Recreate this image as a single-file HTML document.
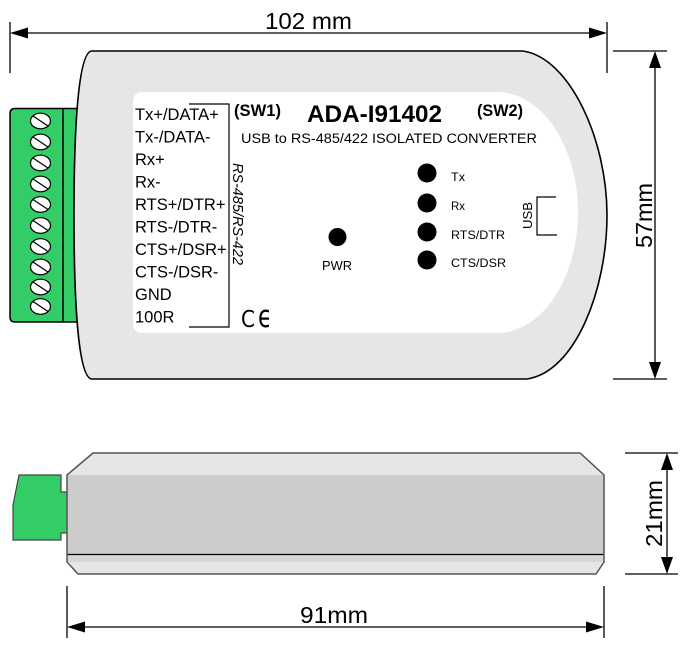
<!DOCTYPE html>
<html><head><meta charset="utf-8"><style>
html,body{margin:0;padding:0;background:#fff;}
svg{display:block;}
text{font-family:"Liberation Sans",Arial,sans-serif;fill:#000;}
</style></head><body>
<svg width="689" height="654" viewBox="0 0 689 654" xmlns="http://www.w3.org/2000/svg">
<!-- Top dimension 102 mm -->
<line x1="10" y1="22" x2="10" y2="73" stroke="#000" stroke-width="1.3"/>
<line x1="607" y1="22" x2="607" y2="73" stroke="#000" stroke-width="1.3"/>
<line x1="20" y1="33" x2="597" y2="33" stroke="#000" stroke-width="1.3"/>
<polygon points="10,33 28,27.5 28,38.5" fill="#000"/>
<polygon points="607,33 589,27.5 589,38.5" fill="#000"/>
<text x="265" y="29" font-size="23" textLength="87" lengthAdjust="spacingAndGlyphs">102 mm</text>

<!-- Right dimension 57mm -->
<line x1="613" y1="51" x2="667" y2="51" stroke="#000" stroke-width="1.3"/>
<line x1="613" y1="379" x2="667" y2="379" stroke="#000" stroke-width="1.3"/>
<line x1="655" y1="60" x2="655" y2="370" stroke="#000" stroke-width="1.3"/>
<polygon points="655,51 649,68 661,68" fill="#000"/>
<polygon points="655,379 649,362 661,362" fill="#000"/>
<text transform="translate(652,248) rotate(-90)" font-size="23" textLength="65" lengthAdjust="spacingAndGlyphs">57mm</text>

<!-- Green terminal block -->
<path d="M15 108.5 L80 108.5 L80 322 L15 322 Q10 322 10 317 L10 113.5 Q10 108.5 15 108.5 Z" fill="#33cc66" stroke="#000" stroke-width="1.5"/>
<line x1="63" y1="108.5" x2="63" y2="322" stroke="#000" stroke-width="1.5"/>
<g fill="#fff" stroke="#000" stroke-width="1.2">
<ellipse cx="40.5" cy="121" rx="10" ry="7.8"/>
<ellipse cx="40.5" cy="142" rx="10" ry="7.8"/>
<ellipse cx="40.5" cy="163" rx="10" ry="7.8"/>
<ellipse cx="40.5" cy="184" rx="10" ry="7.8"/>
<ellipse cx="40.5" cy="204.5" rx="10" ry="7.8"/>
<ellipse cx="40.5" cy="225.5" rx="10" ry="7.8"/>
<ellipse cx="40.5" cy="246.5" rx="10" ry="7.8"/>
<ellipse cx="40.5" cy="267" rx="10" ry="7.8"/>
<ellipse cx="40.5" cy="287" rx="10" ry="7.8"/>
<ellipse cx="40.5" cy="306.5" rx="10" ry="7.8"/>
</g>
<g stroke="#000" stroke-width="1.2">
<line x1="33" y1="116" x2="48" y2="126"/>
<line x1="33" y1="137" x2="48" y2="147"/>
<line x1="33" y1="158" x2="48" y2="168"/>
<line x1="33" y1="179" x2="48" y2="189"/>
<line x1="33" y1="199.5" x2="48" y2="209.5"/>
<line x1="33" y1="220.5" x2="48" y2="230.5"/>
<line x1="33" y1="241.5" x2="48" y2="251.5"/>
<line x1="33" y1="262" x2="48" y2="272"/>
<line x1="33" y1="282" x2="48" y2="292"/>
<line x1="33" y1="301.5" x2="48" y2="311.5"/>
</g>

<!-- Top view body -->
<path d="M92 51 L523 51 C570 58, 607 140, 607 215 C607 290, 575 372, 527 379 L92 379 C80 379, 74 320, 74 215 C74 110, 80 51, 92 51 Z" fill="#e6e6e6" stroke="#000" stroke-width="1.6"/>
<path d="M143 92 L500 92 C545 95, 578 150, 578 212 C578 275, 545 330, 500 333 L143 333 Q133 333 133 323 L133 102 Q133 92 143 92 Z" fill="#fff"/>

<!-- Labels -->
<g font-size="16.5">
<text x="135" y="120">Tx+/DATA+</text>
<text x="135" y="142.5">Tx-/DATA-</text>
<text x="135" y="165">Rx+</text>
<text x="135" y="187.5">Rx-</text>
<text x="135" y="210">RTS+/DTR+</text>
<text x="135" y="232.5">RTS-/DTR-</text>
<text x="135" y="255">CTS+/DSR+</text>
<text x="135" y="277.5">CTS-/DSR-</text>
<text x="135" y="300">GND</text>
<text x="135" y="322.5">100R</text>
</g>
<polyline points="189,104 229,104 229,327 189,327" fill="none" stroke="#000" stroke-width="1.2"/>
<text transform="translate(233,163) rotate(90)" font-size="14.5" font-style="italic" textLength="102" lengthAdjust="spacingAndGlyphs">RS-485/RS-422</text>

<text x="234" y="116" font-size="16.5" font-weight="bold" textLength="47" lengthAdjust="spacingAndGlyphs">(SW1)</text>
<text x="307" y="122" font-size="24" font-weight="bold" textLength="135" lengthAdjust="spacingAndGlyphs">ADA-I91402</text>
<text x="477" y="116" font-size="16.5" font-weight="bold" textLength="46" lengthAdjust="spacingAndGlyphs">(SW2)</text>
<text x="241" y="143" font-size="14.2" textLength="296" lengthAdjust="spacingAndGlyphs">USB to RS-485/422 ISOLATED CONVERTER</text>

<!-- CE mark -->
<text x="241" y="327" font-size="23" textLength="14" lengthAdjust="spacingAndGlyphs" style="font-family:'DejaVu Sans',sans-serif;">C</text>
<text x="258" y="327" font-size="31" textLength="14" lengthAdjust="spacingAndGlyphs" style="font-family:'DejaVu Sans',sans-serif;">ϵ</text>

<!-- PWR LED -->
<circle cx="337.5" cy="237" r="9" fill="#000"/>
<text x="322" y="270" font-size="12.5" textLength="30" lengthAdjust="spacingAndGlyphs">PWR</text>

<!-- LEDs -->
<circle cx="427" cy="173" r="9.5" fill="#000"/>
<circle cx="427" cy="203" r="9.5" fill="#000"/>
<circle cx="427" cy="232" r="9.5" fill="#000"/>
<circle cx="427" cy="260" r="9.5" fill="#000"/>
<g font-size="12">
<text x="451" y="181" textLength="14" lengthAdjust="spacingAndGlyphs">Tx</text>
<text x="451" y="210" textLength="14" lengthAdjust="spacingAndGlyphs">Rx</text>
<text x="451" y="239" textLength="54" lengthAdjust="spacingAndGlyphs">RTS/DTR</text>
<text x="451" y="267" textLength="55" lengthAdjust="spacingAndGlyphs">CTS/DSR</text>
</g>

<!-- USB -->
<polyline points="556,197 537,197 537,235 557,235" fill="none" stroke="#000" stroke-width="1.2"/>
<text transform="translate(532,229) rotate(-90)" font-size="13" textLength="27" lengthAdjust="spacingAndGlyphs">USB</text>

<!-- Side view -->
<path d="M19 475 L61 475 L61 492 L68 492 L68 533 L61 533 L61 540 L13 540 L13 505 Z" fill="#33cc66" stroke="#444" stroke-width="1.2"/>
<polygon points="93,453 580,453 604,475 604,562 596,574 78,574 67,562 67,475" fill="#e6e6e6"/>
<rect x="67" y="475" width="537" height="79" fill="#cccccc"/>
<rect x="67" y="555" width="537" height="7" fill="#d6d6d6"/>
<line x1="67" y1="554.5" x2="604" y2="554.5" stroke="#000" stroke-width="1.3"/>
<polygon points="93,453 580,453 604,475 604,562 596,574 78,574 67,562 67,475" fill="none" stroke="#555" stroke-width="1.5"/>

<!-- Bottom dimension 91mm -->
<line x1="67" y1="586" x2="67" y2="638" stroke="#000" stroke-width="1.3"/>
<line x1="604" y1="586" x2="604" y2="638" stroke="#000" stroke-width="1.3"/>
<line x1="75" y1="627" x2="596" y2="627" stroke="#000" stroke-width="1.3"/>
<polygon points="67,627 85,621.5 85,632.5" fill="#000"/>
<polygon points="604,627 586,621.5 586,632.5" fill="#000"/>
<text x="300" y="623" font-size="23" textLength="68" lengthAdjust="spacingAndGlyphs">91mm</text>

<!-- Right dimension 21mm -->
<line x1="625" y1="453" x2="678" y2="453" stroke="#000" stroke-width="1.3"/>
<line x1="625" y1="574" x2="678" y2="574" stroke="#000" stroke-width="1.3"/>
<line x1="667" y1="462" x2="667" y2="565" stroke="#000" stroke-width="1.3"/>
<polygon points="667,453 661,470 673,470" fill="#000"/>
<polygon points="667,574 661,557 673,557" fill="#000"/>
<text transform="translate(662,547) rotate(-90)" font-size="23" textLength="67" lengthAdjust="spacingAndGlyphs">21mm</text>
</svg>
</body></html>
